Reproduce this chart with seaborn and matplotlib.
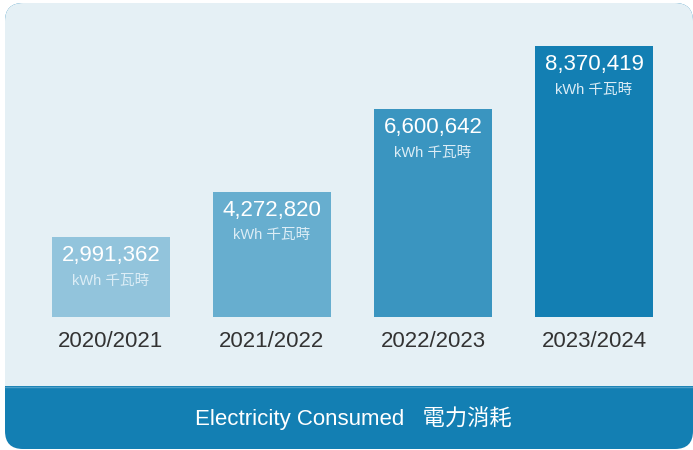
import matplotlib
matplotlib.use("Agg")
import matplotlib.pyplot as plt
from matplotlib.patches import FancyBboxPatch, Rectangle
import pandas as pd
import seaborn as sns

# data
years = ["2020/2021", "2021/2022", "2022/2023", "2023/2024"]
kwh = [2991362, 4272820, 6600642, 8370419]
unit_label = "kWh 千瓦時"
banner_text = "Electricity Consumed   電力消耗"

bar_colors = ["#92c4dc", "#67aecf", "#3a95c0", "#137fb3"]
CARD_BG = "#e5f0f5"
BANNER = "#137fb3"

sns.set_theme(style="white")
plt.rcParams["font.family"] = ["Liberation Sans", "Noto Sans CJK TC", "DejaVu Sans"]

df = pd.DataFrame({"year": years, "kwh": kwh})

fig = plt.figure(figsize=(6.93, 4.5), dpi=100)
fig.patch.set_facecolor("white")

# background card drawn in pixel space
bg = fig.add_axes([0, 0, 1, 1])
bg.set_xlim(0, 693)
bg.set_ylim(450, 0)
bg.axis("off")
bg.add_patch(FancyBboxPatch((5, 3), 688, 446, boxstyle="round,pad=0,rounding_size=18",
                            facecolor=BANNER, edgecolor="none"))
bg.add_patch(FancyBboxPatch((5, 3), 688, 383, boxstyle="round,pad=0,rounding_size=18",
                            facecolor=CARD_BG, edgecolor="none"))
bg.add_patch(Rectangle((5, 350), 688, 36, facecolor=CARD_BG, edgecolor="none"))
bg.plot([5, 693], [386.5, 386.5], color="#4d9fc8", lw=1)
bg.text(353, 418, banner_text, ha="center", va="center", color="white", fontsize=16)

# bars
ax = fig.add_axes([5 / 693, 133 / 450, 688 / 693, 287 / 450])
ax.patch.set_alpha(0)
sns.barplot(data=df, x="year", y="kwh", hue="year", palette=bar_colors,
            width=0.733, legend=False, ax=ax, saturation=1, linewidth=0)
ax.set_xlim(-0.658, 3.615)
ax.set_ylim(740000, 740000 + 287 / 35.5e-6)

for i, v in enumerate(kwh):
    ax.annotate(f"{v:,}", (i, v), xytext=(0, -13.5), textcoords="offset points",
                ha="center", va="center", color="white", fontsize=16)
    ax.annotate(unit_label, (i, v), xytext=(0, -31.5), textcoords="offset points",
                ha="center", va="center", color="#dcedf6", fontsize=10.5)

ax.set_xlabel("")
ax.set_ylabel("")
ax.set_yticks([])
ax.tick_params(axis="x", length=0, pad=10, labelsize=16, labelcolor="#333333")
sns.despine(ax=ax, left=True, bottom=True)

fig.savefig("out.png", dpi=100, facecolor="white")
